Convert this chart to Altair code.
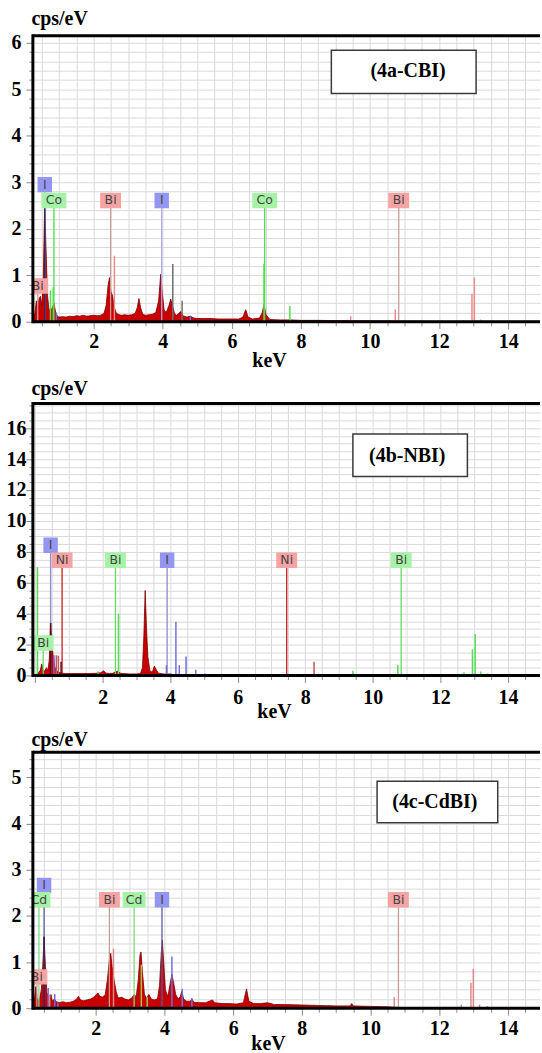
import math

import altair as alt
import pandas as pd

SERIF = "Liberation Serif"
SANS = "DejaVu Sans"
SPEC_FILL = "#c80000"
SPEC_EDGE = "#7d0000"
GRID = "#d9d9d9"
LEFT = 33     # width reserved for the y axis of every panel, px
PLOT_W = 509  # plot area width of every panel, px

# ---------------- (4a-CBI) ----------------
cbi_kev = [0.18, 0.22, 0.26, 0.30, 0.34, 0.38, 0.42, 0.46, 0.50, 0.54, 0.58, 0.62, 0.66, 0.70, 0.74,
           0.80, 0.85, 0.90, 0.95,
           1.0, 1.1, 1.2, 1.3, 1.4, 1.5, 1.6, 1.7, 1.8, 1.9, 2.0, 2.1, 2.2, 2.3,
           2.36, 2.42, 2.46, 2.50, 2.55, 2.60, 2.65, 2.70,
           2.8, 2.9, 3.0, 3.1, 3.2,
           3.26, 3.31, 3.36, 3.42,
           3.5, 3.6, 3.7, 3.8,
           3.88, 3.94, 3.99, 4.04, 4.10,
           4.18, 4.23, 4.28, 4.34, 4.40, 4.46, 4.52, 4.58,
           4.7, 4.8, 4.9, 5.0,
           5.2, 5.4, 5.6, 5.8, 6.0, 6.2,
           6.32, 6.40, 6.47, 6.6, 6.8,
           6.88, 6.93, 6.99, 7.1,
           7.4, 7.7, 8.0, 8.5, 9.0, 9.5, 10.0,
           11.0, 12.0, 13.0, 14.0, 14.92]
cbi_cps = [0.10, 0.28, 0.12, 0.20, 0.45, 0.30, 0.50, 0.55, 0.35, 0.90, 2.45, 1.60, 0.60, 0.30, 0.20,
           0.30, 0.40, 0.20, 0.12,
           0.10, 0.11, 0.10, 0.12, 0.11, 0.13, 0.12, 0.14, 0.12, 0.13, 0.14, 0.13, 0.14, 0.18,
           0.35, 0.80, 0.95, 0.65, 0.55, 0.30, 0.20, 0.16,
           0.14, 0.15, 0.14, 0.15, 0.18,
           0.30, 0.50, 0.30, 0.16,
           0.14, 0.15, 0.16, 0.20,
           0.45, 1.02, 0.60, 0.25, 0.20,
           0.35, 0.49, 0.35, 0.18, 0.14, 0.18, 0.22, 0.13,
           0.10, 0.12, 0.08, 0.07,
           0.07, 0.07, 0.06, 0.06, 0.06, 0.06,
           0.10, 0.26, 0.10, 0.06, 0.08,
           0.20, 0.37, 0.15, 0.05,
           0.04, 0.04, 0.03, 0.03, 0.025, 0.02, 0.02,
           0.015, 0.01, 0.01, 0.01, 0.01]
cbi_stick_kev = [0.25, 0.585, 0.75, 0.83, 0.92, 2.60, 4.29, 4.56, 4.80, 6.93, 7.68, 9.44, 10.73,
                 12.70, 12.95, 13.02, 13.20]
cbi_stick_cps = [2.40, 2.45, 0.67, 0.74, 0.20, 1.42, 1.24, 0.45, 0.12, 1.25, 0.34, 0.12, 0.27,
                 0.04, 0.60, 0.95, 0.05]
cbi_stick_elem = ["Bi", "M", "Co", "Co", "I", "Bi", "X", "X", "I", "Co", "Co", "Bi", "Bi",
                  "Bi", "Bi", "Bi", "Bi"]
cbi_label_text = ["I", "Co", "Bi", "I", "Co", "Bi", "Bi"]
cbi_label_kev = [0.585, 0.85, 2.49, 3.97, 6.95, 10.83, 0.38]
cbi_label_tier = [0, 1, 1, 1, 1, 1, 2]

# ---------------- (4b-NBI) ----------------
nbi_kev = [0.0, 0.05, 0.10, 0.15, 0.20,
           0.24, 0.30, 0.34, 0.38, 0.42,
           0.46, 0.50, 0.54, 0.58, 0.62,
           0.70, 0.80, 0.90, 1.00, 1.20,
           1.40, 1.60, 1.80, 1.95, 2.03,
           2.10, 2.20, 2.30, 2.40, 2.46,
           2.52, 2.60, 2.80, 3.00, 3.12,
           3.18, 3.22, 3.26, 3.30, 3.34,
           3.40, 3.47, 3.53, 3.58, 3.65,
           3.80, 3.95, 4.05, 4.12, 5.00,
           7.00, 10.00, 14.95]
nbi_cps = [0.00, 0.10, 0.20, 0.30, 0.75,
           0.20, 0.35, 0.50, 0.30, 1.00,
           3.40, 2.00, 1.20, 0.60, 0.30,
           0.20, 0.15, 0.12, 0.12, 0.12,
           0.13, 0.12, 0.14, 0.18, 0.30,
           0.15, 0.13, 0.14, 0.25, 0.28,
           0.15, 0.12, 0.10, 0.10, 0.12,
           0.50, 2.50, 5.50, 3.00, 1.20,
           0.30, 0.20, 0.60, 0.40, 0.15,
           0.10, 0.10, 0.08, 0.02, 0.01,
           0.01, 0.01, 0.01]
nbi_stick_kev = [0.07, 0.46, 0.56, 0.63, 0.69, 0.77, 1.86, 2.47, 3.89, 4.17, 4.27, 4.47, 4.76,
                 5.03, 8.26, 9.41, 10.74, 12.70, 12.95, 13.03, 13.20, 13.40]
nbi_stick_cps = [7.00, 3.40, 1.30, 1.30, 1.27, 0.88, 0.25, 4.00, 0.66, 3.48, 0.66, 1.23, 0.37,
                 0.12, 0.88, 0.30, 0.66, 0.20, 1.70, 2.66, 0.25, 0.15]
nbi_stick_elem = ["Bi", "M", "I", "Ni", "Ni", "M", "Bi", "Bi", "I", "I", "I", "I", "I",
                  "I", "Ni", "Bi", "Bi", "Bi", "Bi", "Bi", "Bi", "Bi"]
nbi_label_text = ["I", "Ni", "Bi", "I", "Ni", "Bi", "Bi"]
nbi_label_kev = [0.46, 0.80, 2.38, 3.91, 7.45, 10.84, 0.24]
nbi_label_tier = [0, 1, 1, 1, 1, 1, 2]

# ---------------- (4c-CdBI) ----------------
cdbi_kev = [0.087, 0.10, 0.14, 0.18, 0.22,
            0.26, 0.30, 0.34, 0.38, 0.42,
            0.46, 0.50, 0.54, 0.58, 0.62,
            0.66, 0.70, 0.74, 0.80, 0.86,
            0.95, 1.05, 1.15, 1.25, 1.35,
            1.45, 1.50, 1.56, 1.65, 1.75,
            1.85, 1.95, 2.02, 2.07, 2.12,
            2.20, 2.28, 2.34, 2.40, 2.44,
            2.48, 2.54, 2.60, 2.66, 2.75,
            2.85, 2.95, 3.05, 3.12, 3.18,
            3.24, 3.29, 3.32, 3.36, 3.42,
            3.48, 3.55, 3.62, 3.70, 3.80,
            3.86, 3.91, 3.94, 3.98, 4.03,
            4.10, 4.16, 4.22, 4.27, 4.33,
            4.40, 4.46, 4.51, 4.56, 4.65,
            4.75, 4.80, 4.86, 5.00, 5.20,
            5.40, 5.46, 5.70, 5.90, 6.10,
            6.30, 6.39, 6.46, 6.60, 6.80,
            7.00, 7.20, 7.50, 8.00, 8.50,
            9.00, 9.40, 9.45, 9.50, 10.00,
            10.50, 11.00, 14.93]
cdbi_cps = [0.15, 0.15, 0.30, 0.12, 0.20,
            0.47, 0.20, 0.15, 0.25, 0.40,
            0.90, 1.55, 0.90, 0.35, 0.25,
            0.20, 0.30, 0.15, 0.20, 0.14,
            0.12, 0.14, 0.12, 0.13, 0.15,
            0.20, 0.26, 0.18, 0.16, 0.18,
            0.20, 0.24, 0.30, 0.33, 0.26,
            0.24, 0.30, 0.60, 1.05, 1.19,
            0.90, 0.60, 0.35, 0.22, 0.24,
            0.20, 0.18, 0.22, 0.30, 0.25,
            0.60, 1.15, 1.22, 0.80, 0.30,
            0.22, 0.30, 0.20, 0.18, 0.20,
            0.50, 1.20, 1.48, 1.00, 0.40,
            0.25, 0.50, 0.74, 0.55, 0.30,
            0.20, 0.25, 0.37, 0.20, 0.15,
            0.15, 0.20, 0.13, 0.12, 0.12,
            0.18, 0.12, 0.10, 0.10, 0.09,
            0.12, 0.42, 0.15, 0.10, 0.10,
            0.12, 0.08, 0.08, 0.07, 0.06,
            0.05, 0.05, 0.10, 0.05, 0.04,
            0.03, 0.01, 0.01]
cdbi_stick_kev = [0.13, 0.50, 0.62, 0.66, 0.81, 0.90, 2.52, 3.33, 3.50, 4.22, 4.52, 4.80,
                  10.69, 12.64, 12.92, 12.99, 13.17, 13.40]
cdbi_stick_cps = [2.20, 1.55, 0.44, 0.30, 0.31, 0.12, 1.29, 0.94, 0.25, 1.12, 0.42, 0.22,
                  0.24, 0.08, 0.55, 0.85, 0.08, 0.05]
cdbi_stick_elem = ["Bi", "M", "I", "Bi", "I", "I", "Bi", "Cd", "Cd", "I", "I", "I",
                   "Bi", "Bi", "Bi", "Bi", "Bi", "Bi"]
cdbi_label_text = ["I", "Cd", "Bi", "Cd", "I", "Bi", "Bi"]
cdbi_label_kev = [0.50, 0.35, 2.40, 3.12, 3.93, 10.81, 0.29]
cdbi_label_tier = [0, 1, 1, 1, 1, 1, 2]

PINK_BOX = "#f5a3a3"
GREEN_BOX = "#a6f2a6"
BLUE_BOX = "#9595f2"
BOX_W = {"I": 14.5, "Bi": 21, "Co": 25, "Ni": 21, "Cd": 23}  # label chip widths, px
BOX_H = 15.5

PANELS = [
    dict(tag="(4a-CBI)", kev=cbi_kev, cps=cbi_cps,
         stick_kev=cbi_stick_kev, stick_cps=cbi_stick_cps, stick_elem=cbi_stick_elem,
         label_text=cbi_label_text, label_kev=cbi_label_kev, label_tier=cbi_label_tier,
         tiers=[2.95, 2.61, 0.77],
         box_colors={"Bi": PINK_BOX, "I": BLUE_BOX, "Co": GREEN_BOX},
         line_colors={"Bi": "#c99b9b", "I": "#a9a9e6", "Co": "#4fdc4f"},
         stick_colors={"Bi": "#ec8c8c", "I": "#6d6de0", "Co": "#4ee04e", "M": "#3b1d4d",
                       "X": "#707070"},
         height=287, xdomain=(0.24, 14.92), ymax=6.15,
         ystep=0.2, ymajor=1, ypad=5, xpad=3, ytitle_y=-17, xtitle_x=237, xtitle_y=39,
         inset=(8.88, 13.07, 4.91, 5.84), inset_text=(11.1, 5.39)),
    dict(tag="(4b-NBI)", kev=nbi_kev, cps=nbi_cps,
         stick_kev=nbi_stick_kev, stick_cps=nbi_stick_cps, stick_elem=nbi_stick_elem,
         label_text=nbi_label_text, label_kev=nbi_label_kev, label_tier=nbi_label_tier,
         tiers=[8.42, 7.45, 2.10],
         box_colors={"Bi": GREEN_BOX, "I": BLUE_BOX, "Ni": PINK_BOX},
         line_colors={"Bi": "#62dc62", "I": "#8a8ad0", "Ni": "#c81e1e"},
         stick_colors={"Bi": "#52dc52", "I": "#6f6fe0", "Ni": "#c45656", "M": "#5a0a14"},
         height=273, xdomain=(-0.065, 14.95), ymax=17.6,
         ystep=0.5, ymajor=2, ypad=0, xpad=5, ytitle_y=-15, xtitle_x=242, xtitle_y=36,
         inset=(9.41, 12.8, 12.88, 15.63), inset_text=(11.02, 14.17)),
    dict(tag="(4c-CdBI)", kev=cdbi_kev, cps=cdbi_cps,
         stick_kev=cdbi_stick_kev, stick_cps=cdbi_stick_cps, stick_elem=cdbi_stick_elem,
         label_text=cdbi_label_text, label_kev=cdbi_label_kev, label_tier=cdbi_label_tier,
         tiers=[2.66, 2.35, 0.68],
         box_colors={"Bi": PINK_BOX, "I": BLUE_BOX, "Cd": GREEN_BOX},
         line_colors={"Bi": "#c99b9b", "I": "#5a5aa0", "Cd": "#7fdc7f"},
         stick_colors={"Bi": "#e08888", "I": "#6f6fe0", "Cd": "#a8c43a", "M": "#3b1d4d"},
         height=257, xdomain=(0.174, 14.93), ymax=5.55,
         ystep=0.2, ymajor=1, ypad=5, xpad=3, ytitle_y=-13, xtitle_x=236, xtitle_y=35,
         inset=(10.19, 13.7, 4.02, 4.92), inset_text=(11.87, 4.47)),
]


def build_panel(p):
    W, H = PLOT_W, p["height"]
    x0, x1 = p["xdomain"]
    ymax = p["ymax"]
    kpp = (x1 - x0) / W      # keV per pixel
    upp = ymax / H           # cps/eV per pixel

    xvals = [round(k * 0.5, 1) for k in range(math.ceil(x0 / 0.5 - 1e-9), int(x1 / 0.5) + 1)]
    yvals = [round(k * p["ystep"], 2) for k in range(0, int(ymax / p["ystep"] + 1e-9) + 1)]

    xscale = alt.Scale(domain=[x0, x1], nice=False, zero=False)
    yscale = alt.Scale(domain=[0, ymax], nice=False)

    xaxis = alt.Axis(
        values=xvals, title="keV",
        labelExpr="datum.value > 0 && datum.value % 2 === 0 ? '' + datum.value : ''",
        grid=True, gridColor=GRID, gridWidth=1, domain=False,
        ticks=True, tickColor="#8a8a8a", tickWidth=1,
        tickSize={"expr": "datum.value % 2 === 0 ? 7 : 4"},
        labelFont=SERIF, labelFontSize=20, labelFontWeight="bold", labelColor="black",
        labelPadding=p["xpad"], labelOverlap=False, labelFlush=False,
        titleFont=SERIF, titleFontSize=20, titleFontWeight="bold", titleColor="black",
        titleX=p["xtitle_x"], titleY=p["xtitle_y"], titleAlign="center", titleBaseline="middle",
    )
    major = p["ymajor"]
    yaxis = alt.Axis(
        values=yvals, title="cps/eV",
        labelExpr=f"datum.value % {major} === 0 ? '' + datum.value : ''",
        grid=True, gridColor=GRID, gridWidth=1, domain=False,
        ticks=True, tickColor="#8a8a8a", tickWidth=1,
        tickSize={"expr": f"datum.value % {major} === 0 ? 7 : 4"},
        labelFont=SERIF, labelFontSize=20, labelFontWeight="bold", labelColor="black",
        labelPadding=p["ypad"], labelOverlap=False, labelFlush=False,
        titleFont=SERIF, titleFontSize=20, titleFontWeight="bold", titleColor="black",
        titleAngle=0, titleAlign="left", titleBaseline="middle",
        titleX=-2, titleY=p["ytitle_y"],
        minExtent=LEFT, maxExtent=LEFT,
    )

    def X(field):
        return alt.X(field, type="quantitative", scale=xscale, axis=xaxis)

    def Y(field):
        return alt.Y(field, type="quantitative", scale=yscale, axis=yaxis)

    spectrum = pd.DataFrame({"kev": p["kev"], "cps": p["cps"]})

    sticks = pd.DataFrame({"kev": p["stick_kev"], "cps": p["stick_cps"]})
    sticks["base"] = 0.0
    sticks["color"] = [p["stick_colors"][e] for e in p["stick_elem"]]

    labels = pd.DataFrame({"text": p["label_text"], "kev": p["label_kev"]})
    labels["cps"] = [p["tiers"][t] for t in p["label_tier"]]
    labels["base"] = 0.0
    labels["line"] = [p["line_colors"][t] for t in labels["text"]]
    labels["fill"] = [p["box_colors"][t] for t in labels["text"]]
    half_w = [BOX_W[t] / 2 * kpp for t in labels["text"]]
    labels["x0"] = labels["kev"] - half_w
    labels["x1"] = labels["kev"] + half_w
    labels["y0"] = labels["cps"] - BOX_H / 2 * upp
    labels["y1"] = labels["cps"] + BOX_H / 2 * upp

    bx0, bx1, by0, by1 = p["inset"]
    tx, ty = p["inset_text"]
    inset = pd.DataFrame({"x0": [bx0], "x1": [bx1], "y0": [by0], "y1": [by1],
                          "tx": [tx], "ty": [ty], "text": [p["tag"]]})

    area = alt.Chart(spectrum).mark_area(
        color=SPEC_FILL, stroke=SPEC_EDGE, strokeWidth=0.8, interpolate="linear", clip=True
    ).encode(x=X("kev"), y=Y("cps"))

    label_lines = alt.Chart(labels).mark_rule(strokeWidth=1.3, clip=True).encode(
        x=X("kev"), y=Y("cps"), y2=alt.Y2("base"), color=alt.Color("line:N", scale=None)
    )
    stick_rules = alt.Chart(sticks).mark_rule(strokeWidth=1.5, clip=True).encode(
        x=X("kev"), y=Y("cps"), y2=alt.Y2("base"), color=alt.Color("color:N", scale=None)
    )
    chips = alt.Chart(labels).mark_rect(clip=True).encode(
        x=X("x0"), x2=alt.X2("x1"), y=Y("y0"), y2=alt.Y2("y1"),
        color=alt.Color("fill:N", scale=None)
    )
    chip_text = alt.Chart(labels).mark_text(
        font=SANS, fontSize=12.5, color="#454545", align="center", baseline="middle", clip=True
    ).encode(x=X("kev"), y=Y("cps"), text="text:N")

    inset_box = alt.Chart(inset).mark_rect(
        fill="white", stroke="#3a3a3a", strokeWidth=1.5
    ).encode(x=X("x0"), x2=alt.X2("x1"), y=Y("y0"), y2=alt.Y2("y1"))
    inset_label = alt.Chart(inset).mark_text(
        font=SERIF, fontSize=20, fontWeight="bold", color="black",
        align="center", baseline="middle"
    ).encode(x=X("tx"), y=Y("ty"), text="text:N")

    one = pd.DataFrame({"k": [0]})
    frame_top = alt.Chart(one).mark_rule(color="black", strokeWidth=3).encode(
        x=alt.value(0), x2=alt.value(W), y=alt.value(0))
    frame_bottom = alt.Chart(one).mark_rule(color="black", strokeWidth=3).encode(
        x=alt.value(0), x2=alt.value(W), y=alt.value(H))
    frame_left = alt.Chart(one).mark_rule(color="black", strokeWidth=3).encode(
        x=alt.value(0), y=alt.value(-1.5), y2=alt.value(H + 1.5))

    return alt.layer(
        area, label_lines, stick_rules, chips, chip_text, inset_box, inset_label,
        frame_top, frame_bottom, frame_left,
    ).properties(width=W, height=H)


chart = (
    alt.concat(*[build_panel(p) for p in PANELS], columns=1, spacing=8, align="none")
    .resolve_scale(x="independent", y="independent")
    .properties(padding={"left": 0, "top": 7, "right": 0, "bottom": 0})
    .configure_view(stroke=None)
)

chart.save("out.html", embed_options={"renderer": "svg", "actions": False})
